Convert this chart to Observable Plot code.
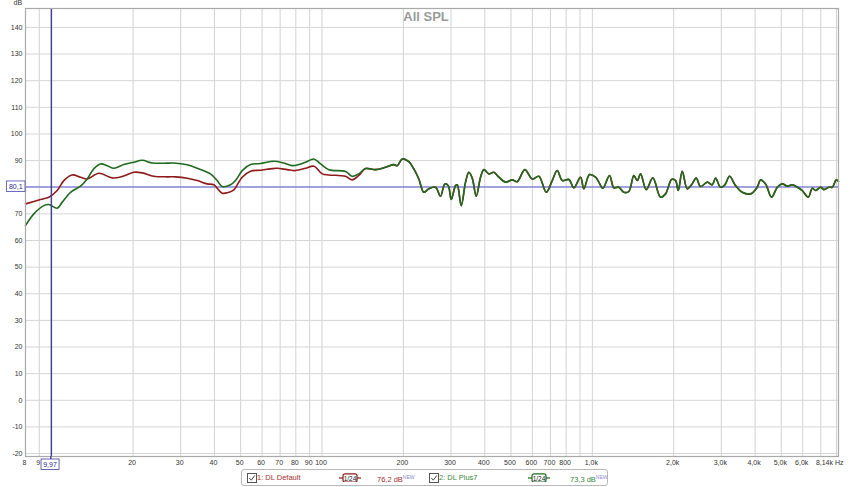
<!DOCTYPE html>
<html>
<head>
<meta charset="utf-8">
<script src="https://cdn.jsdelivr.net/npm/d3@7"></script>
<script src="https://cdn.jsdelivr.net/npm/@observablehq/plot@0.6"></script>
<style>
  html, body { margin: 0; padding: 0; background: #ffffff; }
  #wrap { position: relative; width: 850px; height: 487px; font-family: "Liberation Sans", Arial, sans-serif; }
  #chart svg { display: block; }
  #legend { position: absolute; left: 241px; top: 469px; width: 367px; height: 17px; box-sizing: border-box;
            border: 1px solid #b9b9b9; border-radius: 3px; background: #fff; font-size: 7.5px; }
  #legend .it { position: absolute; top: 0; height: 15px; line-height: 15px; white-space: nowrap; }
  #legend .cb { position: absolute; top: 3px; width: 8px; height: 8px; border: 1px solid #555; background: #fff; }
  #legend .ic { position: absolute; top: 3px; height: 9px; }
  #legend sup { font-size: 5px; color: #8a8ad0; vertical-align: 3px; }
</style>
</head>
<body>
<div id="wrap">
  <div id="chart"></div>
  <div id="legend"></div>
</div>
<script>
// ---------- data ----------
const seriesNames = ["1: DL Default", "2: DL Plus7"];
const seriesColors = ["#8e1a1a", "#1f6a1f"];
const legendColors = ["#a83030", "#3a8a3a"];
const seriesLevels = ["76,2 dB", "73,3 dB"];
const smoothing = "1/24";

// DL Default, below ~140 Hz (Hz, dB)
const freqDefaultLow = [8.0, 9.09, 9.76, 10.48, 11.09, 11.91, 12.78, 13.53, 14.94, 16.74, 18.23, 20.13, 21.62, 23.86, 26.75, 28.71, 31.72, 34.54, 37.61, 39.79, 42.74, 45.21, 47.18, 50.68, 54.39, 59.22, 64.49, 68.27, 74.35, 79.79, 86.9, 93.3, 100.2, 106.0, 122.2, 129.3, 136.8];
const dbDefaultLow = [73.75, 75.4, 76.25, 78.75, 82.5, 84.6, 83.75, 83.1, 85.25, 83.5, 84.0, 85.6, 85.4, 84.1, 83.9, 83.9, 83.4, 82.5, 81.25, 80.9, 77.75, 78.1, 79.0, 83.75, 86.0, 86.4, 86.9, 87.1, 86.6, 86.25, 87.1, 87.9, 85.0, 84.6, 84.1, 82.75, 84.4];

// DL Plus7, below ~140 Hz (Hz, dB)
const freqPlus7Low = [8.0, 8.59, 9.35, 9.76, 10.48, 10.94, 11.74, 12.78, 13.53, 14.31, 15.16, 16.05, 16.97, 18.48, 20.13, 21.62, 23.54, 25.99, 28.30, 31.72, 34.54, 38.68, 40.95, 42.74, 45.87, 47.86, 50.68, 54.39, 59.22, 66.33, 72.23, 77.58, 82.07, 86.9, 93.3, 98.8, 106.0, 122.2, 129.3, 136.8];
const dbPlus7Low = [65.6, 70.0, 73.1, 73.5, 72.1, 74.4, 78.1, 80.4, 83.1, 86.9, 88.75, 88.1, 87.1, 88.5, 89.4, 90.1, 89.1, 89.0, 89.1, 88.4, 87.1, 85.0, 82.5, 80.25, 80.9, 82.5, 86.25, 88.5, 88.9, 89.75, 89.1, 88.1, 88.5, 89.4, 90.6, 88.75, 86.6, 85.9, 84.1, 85.0];

// Both curves coincide above ~145 Hz (Hz, dB)
const freqShared = [144.9, 157.7, 171.8, 184.4, 189.8, 198.0, 209.5, 218.6, 228.1, 238.0, 248.4, 263.0, 274.4, 284.7, 293.0, 300.6, 311.8, 316.4, 327.4, 339.6, 349.2, 359.5, 372.0, 385.9, 396.9, 414.1, 432.2, 451.0, 477.4, 505.5, 527.5, 562.7, 599.4, 634.0, 675.3, 710.7, 741.6, 773.9, 818.6, 854.2, 904.4, 930.2, 976.5, 1027.7, 1057, 1093.6, 1157.8, 1201, 1253, 1308, 1365, 1424, 1466, 1508, 1583, 1674, 1788, 1866, 1964, 2032, 2079, 2151, 2244, 2328, 2423, 2514, 2661, 2777, 2856, 2981, 3092, 3218, 3387, 3586, 3849, 4075, 4191, 4374, 4603, 4832, 5042, 5262, 5491, 5730, 5979, 6292, 6510, 6696, 6987, 7186, 7499, 7720, 7987, 8140];
const dbShared = [87.0, 86.6, 87.5, 88.5, 88.1, 90.6, 89.6, 86.9, 83.1, 78.1, 79.4, 80.0, 76.6, 81.25, 80.6, 75.4, 80.6, 80.9, 73.1, 81.9, 85.6, 83.4, 76.6, 83.75, 86.6, 85.0, 85.6, 83.75, 81.9, 82.75, 82.1, 86.6, 83.1, 84.1, 78.1, 82.5, 86.25, 82.5, 82.9, 79.75, 83.75, 79.4, 84.75, 83.75, 81.9, 79.6, 84.4, 79.75, 80.0, 78.1, 78.4, 84.4, 82.5, 85.0, 79.1, 83.5, 76.25, 77.5, 82.9, 82.5, 78.75, 86.0, 79.4, 80.9, 83.4, 80.25, 81.9, 80.9, 83.4, 80.0, 80.9, 84.1, 80.6, 78.1, 77.5, 80.0, 82.75, 81.25, 76.25, 80.0, 81.25, 80.4, 80.9, 80.0, 78.75, 76.25, 79.6, 78.75, 80.0, 79.1, 80.0, 80.0, 82.75, 82.1];

// axes
const xDomain = [8, 8140];
const yDomain = [-21.1, 147.1];
const yGrid = [-20, -10, 0, 10, 20, 30, 40, 50, 60, 70, 80, 90, 100, 110, 120, 130, 140];
const yTickLabels = [-20, -10, 0, 10, 20, 30, 40, 50, 60, 70, 90, 100, 110, 120, 130, 140]; // 80 hidden by cursor box
const xTickValues = [8, 9, 20, 30, 40, 50, 60, 70, 80, 90, 100, 200, 300, 400, 500, 600, 700, 800, 1000, 2000, 3000, 4000, 5000, 6000];
const xTickLabels = ["8", "9", "20", "30", "40", "50", "60", "70", "80", "90", "100", "200", "300", "400", "500", "600", "700", "800", "1,0k", "2,0k", "3,0k", "4,0k", "5,0k", "6,0k"];
const xGrid = [9, 10, 20, 30, 40, 50, 60, 70, 80, 90, 100, 200, 300, 400, 500, 600, 700, 800, 900, 1000, 2000, 3000, 4000, 5000, 6000, 7000, 8000];
const endLabel = "8,14k Hz";
const title = "All SPL";
const yUnit = "dB";
const cursorFreq = 9.97, cursorFreqLabel = "9,97";
const cursorDb = 80.1, cursorDbLabel = "80,1";

// ---------- build ----------
const rows = (f, v, name) => f.map((x, i) => ({f: x, db: v[i], s: name}));
const dataDefault = rows(freqDefaultLow, dbDefaultLow, seriesNames[0]).concat(rows(freqShared, dbShared, seriesNames[0]));
const dataPlus7 = rows(freqPlus7Low, dbPlus7Low, seriesNames[1]).concat(rows(freqShared, dbShared, seriesNames[1]));
const xTicks = xTickValues.map((v, i) => ({v, label: xTickLabels[i]}));

const plot = Plot.plot({
  width: 850, height: 470,
  marginTop: 8, marginBottom: 14, marginLeft: 25, marginRight: 12,
  x: {type: "log", domain: xDomain, axis: null},
  y: {domain: yDomain, axis: null},
  style: {fontFamily: "'Liberation Sans', Arial, sans-serif", fontSize: "7px", color: "#333", background: "#fff", overflow: "visible"},
  marks: [
    Plot.gridX(xGrid, {stroke: "#d2d2d2", strokeOpacity: 1}),
    Plot.gridY(yGrid, {stroke: "#d6d6d6", strokeOpacity: 1}),
    Plot.text(yTickLabels, {y: d => d, text: d => String(d), frameAnchor: "left", textAnchor: "end", dx: -3, fill: "#333"}),
    Plot.text(xTicks, {x: "v", text: "label", frameAnchor: "bottom", lineAnchor: "top", dy: 4, dx: -1, fill: "#333"}),
    Plot.text([endLabel], {x: xDomain[1], frameAnchor: "bottom", textAnchor: "end", lineAnchor: "top", dx: 5, dy: 4, fill: "#333"}),
    Plot.text([title], {frameAnchor: "top", dx: -6, dy: 3, lineAnchor: "top", fontSize: 13, fontWeight: "bold", fill: "#9a9a9a"}),
    Plot.text([yUnit], {frameAnchor: "top-left", dx: -12, dy: -8, textAnchor: "start", lineAnchor: "top", fontSize: 7, fill: "#333"}),
    Plot.ruleY([cursorDb], {stroke: "#5a5ad0", strokeWidth: 1}),
    Plot.line(dataDefault, {x: "f", y: "db", stroke: seriesColors[0], strokeWidth: 1.6, curve: "catmull-rom"}),
    Plot.line(dataPlus7, {x: "f", y: "db", stroke: seriesColors[1], strokeWidth: 1.6, curve: "catmull-rom"}),
    Plot.ruleX([cursorFreq], {stroke: "#3f3f8a", strokeWidth: 1.4}),
    Plot.frame({stroke: "#a9a9a9", strokeWidth: 1.2})
  ]
});
document.getElementById("chart").appendChild(plot);

// cursor value boxes
const xs = plot.scale("x"), ys = plot.scale("y");
const svg = d3.select(plot);
const cx = xs.apply(cursorFreq), cy = ys.apply(cursorDb);
const g = svg.append("g").attr("font-size", 7).attr("font-family", "'Liberation Sans', Arial, sans-serif");
g.append("line").attr("x1", cx).attr("x2", cx).attr("y1", 456).attr("y2", 459).attr("stroke", "#3f3f8a").attr("stroke-width", 1.4);
g.append("rect").attr("x", cx - 9.8).attr("y", 459).attr("width", 18).attr("height", 10.5).attr("fill", "#fff").attr("stroke", "#3f3f99").attr("stroke-width", 0.8);
g.append("text").attr("x", cx - 0.8).attr("y", 464.5).attr("text-anchor", "middle").attr("dominant-baseline", "central").attr("fill", "#2d2d8c").text(cursorFreqLabel);
g.append("rect").attr("x", 6.5).attr("y", cy - 5.5).attr("width", 18.5).attr("height", 10.5).attr("fill", "#fff").attr("stroke", "#4a4ab0").attr("stroke-width", 0.8);
g.append("text").attr("x", 15.75).attr("y", cy).attr("text-anchor", "middle").attr("dominant-baseline", "central").attr("fill", "#2d2d8c").text(cursorDbLabel);

// legend
const legend = document.getElementById("legend");
const slots = [{cb: 5, name: 15, icon: 97, lvl: 135}, {cb: 187, name: 197, icon: 286, lvl: 328}];
const check = '<svg width="8" height="8" style="position:absolute;left:0;top:0"><path d="M1.3 4 L3.3 6.2 L6.8 1.4" fill="none" stroke="#333" stroke-width="0.9"/></svg>';
seriesNames.forEach((name, i) => {
  const s = slots[i], c = legendColors[i], lc = seriesColors[i];
  legend.insertAdjacentHTML("beforeend",
    `<div class="cb" style="left:${s.cb}px">${check}</div>` +
    `<div class="it" style="left:${s.name}px;color:${c}">${name}</div>` +
    `<svg class="ic" style="left:${s.icon}px" width="22" height="10">
       <line x1="0" y1="5" x2="22" y2="5" stroke="${lc}" stroke-width="1.2"/>
       <rect x="4" y="0.8" width="14" height="8.4" rx="2" fill="#fff" stroke="${lc}" stroke-width="1.2"/>
       <text x="11" y="5.2" font-size="6.5" text-anchor="middle" dominant-baseline="central" fill="#222" font-family="'Liberation Sans', Arial, sans-serif">${smoothing}</text>
     </svg>` +
    `<div class="it" style="left:${s.lvl}px;color:${c}">${seriesLevels[i]}<sup>NEW</sup></div>`);
});
</script>
</body>
</html>
